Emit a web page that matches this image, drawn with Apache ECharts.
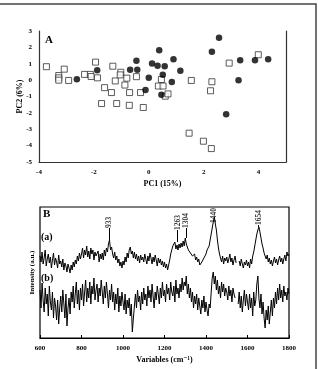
<!DOCTYPE html>
<html>
<head>
<meta charset="utf-8">
<script src="https://cdn.jsdelivr.net/npm/echarts@6/dist/echarts.min.js"></script>
<style>
html, body { margin: 0; padding: 0; background: #fff; }
#chart { width: 318px; height: 369px; }
</style>
</head>
<body>
<div id="chart"></div>
<script>
// panel A: PCA scores
var filledPoints = [
  [-2.62, 0.05], [-1.88, 0.6], [-0.68, 0.63], [-0.45, 1.18], [-0.42, 0.63], [0.0, 0.14],
  [-0.12, -0.6], [0.38, 1.82], [0.12, 1.02], [0.32, 0.88], [0.58, 0.84], [0.51, 0.33],
  [0.9, 1.27], [1.15, 0.57], [0.84, -0.12], [0.46, -0.9], [2.56, 2.59], [2.3, 1.73],
  [3.33, 1.22], [3.27, 0.0], [2.82, -2.08], [3.87, 1.22], [4.35, 1.27]
];
var openPoints = [
  [-3.73, 0.82], [-3.08, 0.67], [-3.28, 0.28], [-3.28, 0.14], [-3.28, 0.0], [-2.92, -0.02],
  [-2.34, 0.35], [-2.13, 0.35], [-2.1, 0.22], [-1.94, 1.1], [-1.87, 0.14], [-1.61, -0.46],
  [-1.36, -0.76], [-1.72, -1.43], [-1.31, 0.85], [-1.22, -0.05], [-1.17, -1.43], [-1.02, 0.48],
  [-1.04, 0.32], [-0.87, -0.3], [-0.8, 0.12], [-0.7, -0.76], [-0.71, -1.54], [-0.45, 0.21],
  [-0.3, -0.76], [-0.2, -1.67], [0.35, -0.36], [0.46, 0.04], [0.52, -0.36], [0.6, -0.98],
  [0.7, -0.84], [1.55, -0.02], [1.47, -3.24], [1.99, -3.73], [2.28, -4.18], [2.25, -0.65],
  [2.3, -0.1], [2.93, 1.04], [3.99, 1.55]
];

// panel B: spectra, one value every 5 cm-1 from 600 to 1800
var spectrumA = [
  82,76,86,74,80,88,72,79,84,75,81,70,78,85,73,80,76,70,83,74,
  77,71,79,68,75,72,66,74,70,65,73,68,76,71,78,74,82,77,85,79,
  84,90,80,88,83,92,81,87,79,90,84,88,78,86,82,80,87,76,84,79,
  85,78,88,82,90,86,94,98,88,91,84,80,86,78,82,75,79,72,76,70,
  77,73,81,76,85,80,88,91,84,87,80,86,79,84,77,82,75,83,78,81,
  76,84,79,74,82,77,85,80,74,81,76,83,78,72,80,75,79,73,77,71,
  76,70,74,68,73,78,84,88,92,90,96,89,93,88,94,90,95,91,97,92,
  100,94,92,88,90,85,87,82,80,84,78,81,76,79,73,71,76,74,80,78,
  84,88,86,92,98,104,110,116,121,114,108,98,90,84,80,76,82,74,80,77,
  81,75,79,84,76,80,73,78,82,75,null,null,77,72,79,74,70,76,73,78,
  72,76,70,79,74,82,86,92,98,104,108,111,106,100,94,90,85,82,79,83,
  76,80,74,78,72,77,81,75,79,73,78,82,76,80,74,79,83,77,86,82,
  84
];
var spectrumB = [
  48,30,55,38,26,50,34,44,22,52,36,28,46,20,40,32,18,38,14,30,
  42,26,48,34,20,44,12,30,40,24,46,36,52,30,44,56,34,48,28,50,
  38,54,32,46,58,36,50,40,56,34,52,44,60,38,48,54,36,50,42,58,
  46,34,52,40,56,44,30,48,38,54,36,46,28,44,34,50,26,42,32,46,
  36,28,44,24,38,30,40,22,34,6,20,32,44,30,48,36,42,28,46,34,
  50,38,44,32,52,40,48,36,54,42,30,46,38,52,44,34,50,40,56,42,
  48,36,54,44,50,38,56,46,42,52,36,58,44,50,40,54,46,60,48,56,
  52,62,44,54,40,50,36,46,30,42,34,44,28,40,32,24,38,30,42,26,
  36,28,22,34,30,46,60,66,54,62,48,58,44,52,40,56,46,54,42,50,
  46,38,52,42,48,36,50,44,40,null,null,34,46,30,42,26,38,48,32,44,
  36,28,44,30,40,22,46,32,38,54,62,40,30,44,24,36,20,10,28,18,
  32,14,26,38,22,40,30,46,34,50,38,54,40,48,36,52,42,46,38,50,
  44
];

// band assignments
var peakPos = [933, 1263, 1304, 1440, 1654];
var peakTop = [98, 96, 100, 121, 111];
var labelBase = [110, 108, 110, 115, 113];

function withWavenumber(values) {
  var out = [];
  for (var i = 0; i < values.length; i++) {
    out.push([600 + i * 5, values[i]]);
  }
  return out;
}

var serif = "'Liberation Serif', 'DejaVu Serif', serif";
var txt = { fontFamily: serif, fontWeight: 'bold', fontSize: 7, color: '#000' };
var nameTxt = Object.assign({}, txt, { fontSize: 8 });
var axisLine = { show: true, onZero: false, lineStyle: { color: '#333', width: 1.2 } };

var chart = echarts.init(document.getElementById('chart'));

chart.setOption({
  animation: false,
  grid: [
    { left: 39, top: 31, width: 247, height: 131 },
    { left: 40, top: 207, width: 249, height: 131, show: true, borderColor: '#000', borderWidth: 1.2 }
  ],
  xAxis: [
    {
      gridIndex: 0, type: 'value', min: -4, max: 5, interval: 2,
      axisLine: axisLine, axisTick: { show: false }, splitLine: { show: false },
      axisLabel: Object.assign({ margin: 7, showMaxLabel: false }, txt),
      name: 'PC1 (15%)', nameLocation: 'middle', nameGap: 18, nameMoveOverlap: false,
      nameTextStyle: nameTxt
    },
    {
      gridIndex: 1, type: 'value', min: 600, max: 1800, interval: 200,
      axisLine: { show: true, onZero: false, lineStyle: { color: '#000', width: 1.2 } },
      axisTick: { show: true, inside: true, length: 3, lineStyle: { color: '#000' } },
      splitLine: { show: false },
      axisLabel: Object.assign({ margin: 7, formatter: function (v) { return String(v); } }, txt),
      name: 'Variables (cm\u207B\u00B9)', nameLocation: 'middle', nameGap: 18, nameMoveOverlap: false,
      nameTextStyle: nameTxt
    }
  ],
  yAxis: [
    {
      gridIndex: 0, type: 'value', min: -5, max: 3, interval: 1,
      axisLine: axisLine, axisTick: { show: false }, splitLine: { show: false },
      axisLabel: Object.assign({ margin: 7 }, txt),
      name: 'PC2 (6%)', nameLocation: 'middle', nameRotate: 90, nameGap: 15, nameMoveOverlap: false,
      nameTextStyle: nameTxt
    },
    {
      gridIndex: 0, type: 'value', position: 'right', min: -5, max: 3,
      axisLine: axisLine, axisTick: { show: false }, axisLabel: { show: false },
      splitLine: { show: false }
    },
    {
      gridIndex: 1, type: 'value', min: 0, max: 131,
      axisLine: { show: false }, axisTick: { show: false }, axisLabel: { show: false },
      splitLine: { show: false },
      name: 'Intensity (a.u.)', nameLocation: 'middle', nameRotate: 90, nameGap: 4, nameMoveOverlap: false,
      nameTextStyle: txt
    }
  ],
  series: [
    {
      type: 'scatter', xAxisIndex: 0, yAxisIndex: 0,
      symbol: 'rect', symbolSize: 6,
      itemStyle: { color: '#fff', borderColor: '#333', borderWidth: 1 },
      data: openPoints
    },
    {
      type: 'scatter', xAxisIndex: 0, yAxisIndex: 0,
      symbol: 'circle', symbolSize: 6.5,
      itemStyle: { color: '#000' },
      data: filledPoints
    },
    {
      type: 'line', xAxisIndex: 1, yAxisIndex: 2, showSymbol: false,
      lineStyle: { color: '#000', width: 1 },
      data: withWavenumber(spectrumA)
    },
    {
      type: 'line', xAxisIndex: 1, yAxisIndex: 2, showSymbol: false,
      lineStyle: { color: '#000', width: 1 },
      data: withWavenumber(spectrumB)
    },
    {
      // peak labels with short leader lines
      type: 'scatter', xAxisIndex: 1, yAxisIndex: 2, symbolSize: 0,
      data: peakPos.map(function (p, i) { return [p, labelBase[i]]; }),
      label: {
        show: true, position: 'inside', rotate: 90, align: 'left', verticalAlign: 'middle',
        fontFamily: serif, fontWeight: 'bold', fontSize: 7.5, color: '#000',
        formatter: function (d) { return String(d.value[0]); }
      },
      markLine: {
        silent: true, symbol: ['none', 'none'], label: { show: false },
        lineStyle: { color: '#000', width: 1, type: 'solid' },
        data: peakPos.filter(function (p, i) { return labelBase[i] > peakTop[i]; }).map(function (p) {
          var i = peakPos.indexOf(p);
          return [{ coord: [p, peakTop[i]] }, { coord: [p, labelBase[i]] }];
        })
      }
    }
  ],
  graphic: [
    { type: 'rect', shape: { x: -3, y: 4, width: 319, height: 380 }, style: { fill: 'none', stroke: '#444', lineWidth: 1.5 } },
    { type: 'text', left: 45, top: 35, style: { text: 'A', font: 'bold 11px ' + serif, fill: '#000' } },
    { type: 'text', left: 43, top: 209, style: { text: 'B', font: 'bold 11px ' + serif, fill: '#000' } },
    { type: 'text', left: 41, top: 232, style: { text: '(a)', font: 'bold 10px ' + serif, fill: '#000' } },
    { type: 'text', left: 41, top: 273, style: { text: '(b)', font: 'bold 10px ' + serif, fill: '#000' } }
  ]
});
</script>
</body>
</html>
